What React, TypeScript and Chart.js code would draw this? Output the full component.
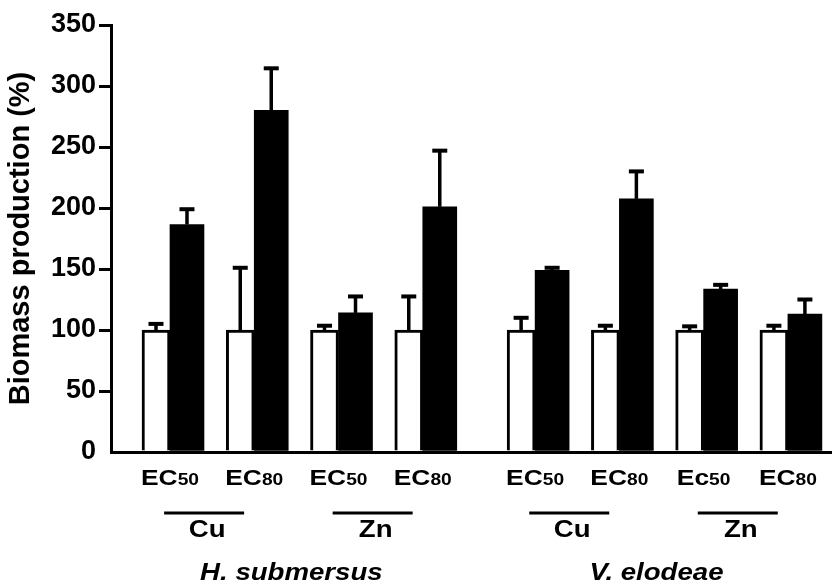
import React, { useEffect, useRef } from "react";
import { Chart, registerables } from "chart.js";

Chart.register(...registerables);

// Exposure level under each pair of bars
const doseLabels = ["EC50", "EC80", "EC50", "EC80", "EC50", "EC80", "Ec50", "EC80"];
// Metal bracket under every two exposure levels
const metalLabels = ["Cu", "Zn", "Cu", "Zn"];
// Species under every four exposure levels
const speciesLabels = ["H. submersus", "V. elodeae"];

// Open bars (control, 100 %) and their upper error
const controlMean = [100, 100, 100, 100, 100, 100, 100, 100];
const controlErr = [5, 51, 3.5, 27.5, 10, 3.5, 3, 3.5];

// Filled bars (exposed) and their upper error
const treatedMean = [186.5, 280, 114, 201, 149, 207.5, 133.5, 113];
const treatedErr = [12.5, 34.5, 13.5, 46, 2, 22.5, 3.5, 12];

const yMax = 350;
const yStep = 50;

const FONT = '"Liberation Sans", Arial, Helvetica, sans-serif';

// Three slots per pair of bars, one extra slot between the two species
const slotOf = (i: number) => i * 3 + Math.floor(i / 4);

function drawStretched(ctx: CanvasRenderingContext2D, text: string, x: number, y: number, sx: number) {
  ctx.save();
  ctx.translate(x, y);
  ctx.scale(sx, 1);
  ctx.fillText(text, 0, 0);
  ctx.restore();
}

const errorBars = {
  id: "errorBars",
  afterDatasetsDraw(chart: Chart) {
    const ctx = chart.ctx;
    const yScale = chart.scales.y;
    const sets: [number, number[], number[]][] = [
      [0, controlMean, controlErr],
      [1, treatedMean, treatedErr],
    ];
    ctx.save();
    ctx.strokeStyle = "#000";
    ctx.fillStyle = "#000";
    ctx.lineWidth = 3.5;
    sets.forEach(([di, means, errs]) => {
      const meta = chart.getDatasetMeta(di);
      meta.data.forEach((bar: any, i: number) => {
        const { x } = bar.getProps(["x"], true);
        const yTop = yScale.getPixelForValue(means[i]);
        const yErr = yScale.getPixelForValue(means[i] + errs[i]);
        ctx.beginPath();
        ctx.moveTo(x, yTop);
        ctx.lineTo(x, yErr);
        ctx.stroke();
        ctx.fillRect(x - 7.5, yErr - 2, 15, 4);
      });
    });
    ctx.restore();
  },
};

const groupLabels = {
  id: "groupLabels",
  afterDraw(chart: Chart) {
    const ctx = chart.ctx;
    const xScale = chart.scales.x;
    const base = chart.chartArea.bottom;
    const px = (i: number) => xScale.getPixelForValue(slotOf(i));
    ctx.save();
    ctx.fillStyle = "#000";
    ctx.strokeStyle = "#000";
    ctx.textAlign = "left";
    ctx.textBaseline = "alphabetic";

    // EC50 / EC80 with smaller index digits
    const sx = 1.2;
    doseLabels.forEach((label, i) => {
      const m = label.match(/^(\D+)(\d+)$/);
      const head = m ? m[1] : label;
      const tail = m ? m[2] : "";
      ctx.font = `bold 22px ${FONT}`;
      const wHead = ctx.measureText(head).width * sx;
      ctx.font = `bold 16px ${FONT}`;
      const wTail = ctx.measureText(tail).width * sx;
      const x0 = px(i) - (wHead + wTail) / 2;
      ctx.font = `bold 22px ${FONT}`;
      drawStretched(ctx, head, x0, base + 33, sx);
      ctx.font = `bold 16px ${FONT}`;
      drawStretched(ctx, tail, x0 + wHead, base + 33, sx);
    });

    // Metal brackets
    metalLabels.forEach((label, k) => {
      const mid = (px(2 * k) + px(2 * k + 1)) / 2;
      ctx.lineWidth = 3.2;
      ctx.beginPath();
      ctx.moveTo(mid - 48, base + 61);
      ctx.lineTo(mid + 32, base + 61);
      ctx.stroke();
      ctx.font = `bold 23px ${FONT}`;
      const w = ctx.measureText(label).width * sx;
      drawStretched(ctx, label, mid - 5 - w / 2, base + 84.5, sx);
    });

    // Species names
    speciesLabels.forEach((label, s) => {
      const mid = (px(4 * s) + px(4 * s + 3)) / 2;
      ctx.font = `italic bold 24px ${FONT}`;
      const w = ctx.measureText(label).width * 1.15;
      drawStretched(ctx, label, mid - 5 - w / 2, base + 128, 1.15);
    });
    ctx.restore();
  },
};

export default function App() {
  const canvasRef = useRef<HTMLCanvasElement | null>(null);

  useEffect(() => {
    const canvas = canvasRef.current;
    if (!canvas) return;
    const chart = new Chart(canvas, {
      type: "bar",
      data: {
        datasets: [
          {
            label: "Control",
            data: controlMean.map((v, i) => ({ x: slotOf(i), y: v })),
            backgroundColor: "#ffffff",
            borderColor: "#000000",
            borderWidth: 3,
            barThickness: 28,
          },
          {
            label: "Exposed",
            data: treatedMean.map((v, i) => ({ x: slotOf(i), y: v })),
            backgroundColor: "#000000",
            borderWidth: 0,
            barThickness: 34,
          },
        ],
      },
      options: {
        responsive: false,
        animation: false,
        devicePixelRatio: 1,
        layout: { padding: { top: 25, left: 0, right: 0, bottom: 0 } },
        plugins: {
          legend: { display: false },
          tooltip: { enabled: false },
        },
        scales: {
          x: {
            type: "linear",
            offset: false,
            min: -2.1,
            max: 23.57,
            grid: { display: false },
            ticks: { display: false },
            border: { display: true, color: "#000", width: 3, z: 1 },
            afterFit: (scale: any) => {
              scale.height = 134;
            },
          },
          y: {
            min: 0,
            max: yMax,
            ticks: {
              stepSize: yStep,
              color: "#000",
              padding: 3,
              font: { family: FONT, size: 27, weight: "bold" },
            },
            grid: {
              display: true,
              drawOnChartArea: false,
              drawTicks: true,
              tickLength: 12,
              lineWidth: 3,
              color: (c: any) => (c.tick && c.tick.value === 0 ? "rgba(0,0,0,0)" : "#000"),
            },
            border: { display: true, color: "#000", width: 3, z: 1 },
            title: {
              display: true,
              text: "Biomass production (%)",
              color: "#000",
              padding: { top: 4, bottom: 0 },
              font: { family: FONT, size: 29, weight: "bold" },
            },
            afterFit: (scale: any) => {
              scale.width = 111;
            },
          },
        },
      },
      plugins: [errorBars, groupLabels],
    } as any);
    return () => chart.destroy();
  }, []);

  return (
    <div style={{ position: "absolute", left: 0, top: 0, width: 832, height: 586, background: "#fff" }}>
      <canvas ref={canvasRef} width={832} height={586} />
    </div>
  );
}
